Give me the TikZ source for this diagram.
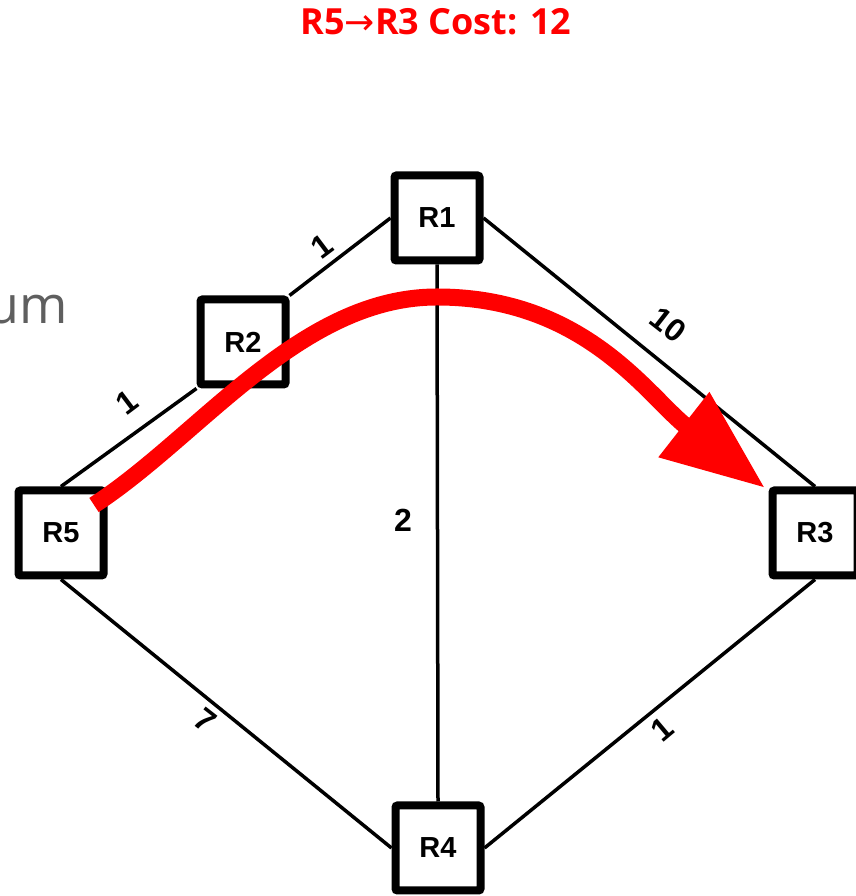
\documentclass[tikz,border=0pt]{standalone}
\usepackage{fontspec}
\usepackage{xcolor}
\usetikzlibrary{arrows.meta}
\newfontfamily\routerfont{Liberation Sans}
\newfontfamily\titlefont{Open Sans}
\newfontfamily\arrowfont{DejaVu Sans}
\definecolor{umgray}{RGB}{95,95,95}

\begin{document}
\begin{tikzpicture}[x=1pt, y=1pt,
  router/.style={draw, line width=8pt, fill=white, rounded corners=2pt,
    minimum size=85pt, inner sep=0pt,
    font=\routerfont\bfseries\fontsize{29}{29}\selectfont},
  link/.style={line width=3.5pt},
  cost/.style={inner sep=0pt, font=\routerfont\bfseries\fontsize{32}{32}\selectfont}]
\useasboundingbox (0,0) rectangle (855,896);

% Title
\node[font=\titlefont\bfseries\fontsize{36}{36}\selectfont, text=red, anchor=base]
  (title) at (436,861) {R5{\arrowfont\mdseries →}R3 Cost: 12};

% Cut-off slide text
\node[font=\titlefont\fontsize{52}{52}\selectfont, text=umgray, anchor=base east]
  (um) at (71,572) {um};

% Routers
\node[router] (r1) at (437,678) {R1};
\node[router] (r2) at (243,554) {R2};
\node[router] (r5) at (61,363) {R5};
\node[router] (r3) at (815,363) {R3};
\node[router] (r4) at (438,48) {R4};

% Links
\draw[link] (r5.north) -- (r2.south west);
\draw[link] (r2.north east) -- (r1.west);
\draw[link] (r1.east) -- (r3.north);
\draw[link] (r3.south) -- (r4.east);
\draw[link] (r4.west) -- (r5.south);
\draw[link] (r1.south) -- (r4.north);

% Link costs
\node[cost, rotate=37] (c52) at (127,494) {1};
\node[cost, rotate=37] (c21) at (322,650) {1};
\node[cost, rotate=-38] (c13) at (668,571) {10};
\node[cost] (c14) at (403,376) {2};
\node[cost, rotate=-38] (c54) at (205,176) {7};
\node[cost, rotate=40] (c43) at (662,167) {1};

% Shortest path R5 -> R3
\coordinate (pstart) at (94,391);
\coordinate (ptop) at (437,599);
\coordinate (pend) at (765,408);
\draw[red, line width=17pt, -{Triangle[length=103pt, width=78pt]}]
  (pstart) .. controls (200,460) and (300,599) .. (ptop)
  to[out=0, in=142] (pend);

\end{tikzpicture}
\end{document}
